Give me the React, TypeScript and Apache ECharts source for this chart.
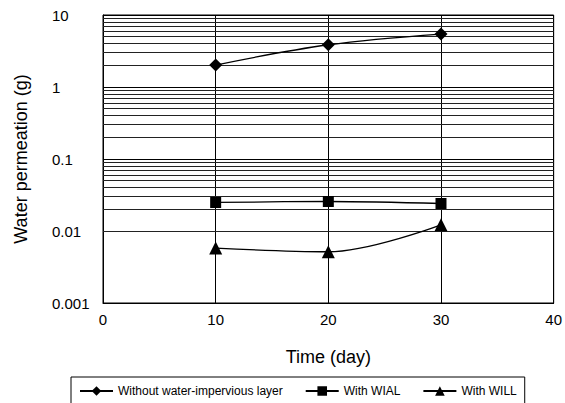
import React, { useEffect, useRef } from "react";
import * as echarts from "echarts";

const days = [10, 20, 30];
const withoutLayer = [2.02, 3.86, 5.44];
const withWIAL = [0.0249, 0.0257, 0.0241];
const withWILL = [0.0058, 0.00515, 0.0122];
const seriesNames = ["Without water-impervious layer", "With WIAL", "With WILL"];
const xTicks = [0, 10, 20, 30, 40];
const yTickLabels = ["0.001", "0.01", "0.1", "1", "10"];
const decades = [0.001, 0.01, 0.1, 1];
const minorMultipliers = [2, 3, 4, 5, 6, 7, 8, 9];

const minorGrid: number[] = [];
decades.forEach((d) => minorMultipliers.forEach((m) => minorGrid.push(+(d * m).toPrecision(3))));

export default function App() {
  const ref = useRef<HTMLDivElement>(null);
  useEffect(() => {
    if (!ref.current) return;
    const chart = echarts.init(ref.current, undefined, { renderer: "svg" });
    const font = "Liberation Sans, Arial, sans-serif";
    const mk = (name: string, data: number[], symbol: string, size: number, extra: any = {}) => ({
      name,
      type: "line",
      data: days.map((d, i) => [d, data[i]]),
      symbol,
      symbolSize: size,
      smooth: 0.35,
      lineStyle: { color: "#000", width: 1.3 },
      itemStyle: { color: "#000" },
      z: 5,
      ...extra,
    });
    chart.setOption({
      animation: false,
      backgroundColor: "#fff",
      textStyle: { fontFamily: font },
      grid: {
        left: 103,
        right: 8,
        top: 15,
        bottom: 100,
        show: true,
        borderColor: "#000",
        borderWidth: 1,
      },
      legend: {
        left: 71,
        top: 377,
        orient: "horizontal",
        borderColor: "#000",
        borderWidth: 1,
        padding: [8, 8, 20, 8],
        itemWidth: 33,
        itemHeight: 12,
        itemGap: 22,
        textStyle: { fontSize: 12, color: "#000", fontFamily: font },
        data: seriesNames,
      },
      xAxis: {
        type: "value",
        min: xTicks[0],
        max: xTicks[xTicks.length - 1],
        interval: 10,
        name: "Time (day)",
        nameLocation: "middle",
        nameGap: 45,
        nameTextStyle: { fontSize: 18, color: "#000", fontFamily: font },
        axisLine: { show: true, lineStyle: { color: "#000", width: 1 } },
        axisTick: { show: false },
        axisLabel: { fontSize: 15, color: "#000", margin: 9, fontFamily: font },
        splitLine: { show: true, lineStyle: { color: "#000", width: 1 } },
      },
      yAxis: {
        type: "log",
        logBase: 10,
        min: 0.001,
        max: 10,
        name: "Water permeation (g)",
        nameLocation: "middle",
        nameGap: 73,
        nameTextStyle: { fontSize: 18, color: "#000", fontFamily: font },
        axisLine: { show: true, lineStyle: { color: "#000", width: 1 } },
        axisTick: { show: false },
        axisLabel: {
          fontSize: 15,
          color: "#000",
          align: "left",
          margin: 51,
          fontFamily: font,
          formatter: (v: number) => {
            const idx = Math.round(Math.log10(v)) + 3;
            return yTickLabels[idx] ?? String(v);
          },
        },
        splitLine: { show: true, lineStyle: { color: "#000", width: 1 } },
      },
      series: [
        mk(seriesNames[0], withoutLayer, "diamond", 13, {
          markLine: {
            silent: true,
            symbol: "none",
            label: { show: false },
            lineStyle: { color: "#222", width: 1, type: "solid" },
            data: minorGrid.map((v) => ({ yAxis: v })),
            z: 1,
          },
        }),
        mk(seriesNames[1], withWIAL, "rect", 11),
        mk(seriesNames[2], withWILL, "triangle", 13),
      ],
    });
    return () => chart.dispose();
  }, []);
  return <div ref={ref} style={{ width: 565, height: 403, position: "absolute", left: 0, top: 0 }} />;
}
